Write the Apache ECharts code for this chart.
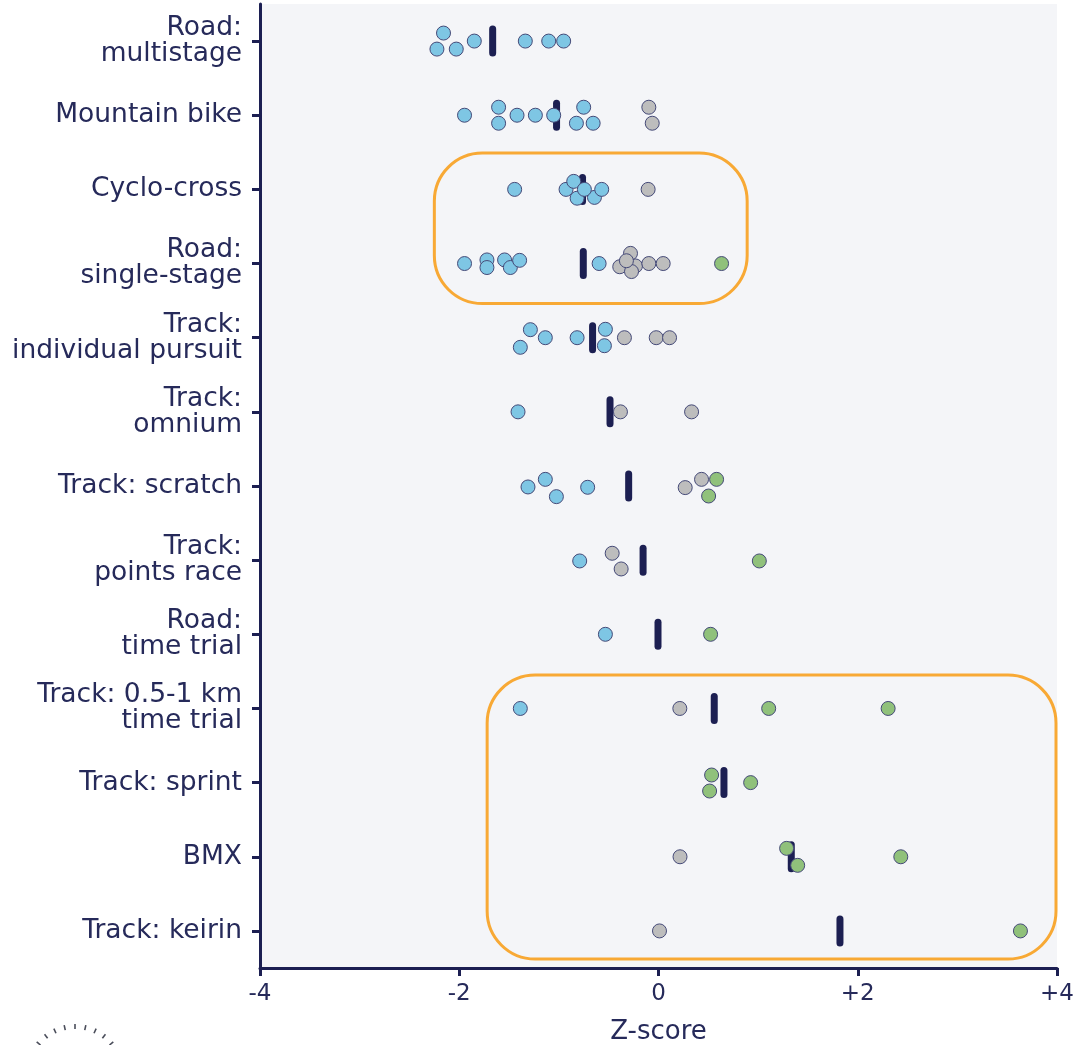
<!DOCTYPE html>
<html><head><meta charset="utf-8">
<script src="https://cdn.jsdelivr.net/npm/echarts@6/dist/echarts.min.js"></script>
<style>html,body{margin:0;padding:0;background:#fff}#c{width:1082px;height:1045px}</style>
</head><body><div id="c"></div>
<script>
const categories = ['Road:\nmultistage','Mountain bike','Cyclo-cross','Road:\nsingle-stage','Track:\nindividual pursuit','Track:\nomnium','Track: scratch','Track:\npoints race','Road:\ntime trial','Track: 0.5-1 km\ntime trial','Track: sprint','BMX','Track: keirin'];
const xTickLabels = ['-4','-2','0','+2','+4'];
// [category index, z-score, swarm lane]
const bluePoints = [
  [0,-2.158,-1],[0,-2.224,1],[0,-2.030,1],[0,-1.849,0],[0,-1.337,0],[0,-1.102,0],[0,-0.952,0],
  [1,-1.947,0],[1,-1.605,-1],[1,-1.605,1],[1,-1.420,0],[1,-1.236,0],[1,-1.052,0],[1,-0.751,-1],[1,-0.824,1],[1,-0.656,1],
  [2,-1.444,0],[2,-0.928,0],[2,-0.817,1.1],[2,-0.851,-1],[2,-0.643,1],[2,-0.744,0],[2,-0.570,0],
  [3,-1.947,0],[3,-1.722,-0.45],[3,-1.722,0.5],[3,-1.545,-0.45],[3,-1.487,0.5],[3,-1.394,-0.4],[3,-0.596,0],
  [4,-1.286,-1],[4,-1.136,0],[4,-1.387,1.2],[4,-0.817,0],[4,-0.533,-1.05],[4,-0.543,1],
  [5,-1.410,0],
  [6,-1.310,0.12],[6,-1.136,-0.83],[6,-1.025,1.33],[6,-0.711,0.16],
  [7,-0.791,0.1],
  [8,-0.533,0],
  [9,-1.387,0]
];
const grayPoints = [
  [1,-0.097,-1],[1,-0.063,1],
  [2,-0.104,0],
  [3,-0.281,-1.27],[3,-0.389,0.4],[3,-0.231,0.3],[3,-0.271,1],[3,-0.322,-0.35],[3,-0.097,0],[3,0.047,0],
  [4,-0.342,0],[4,-0.023,0],[4,0.111,0],
  [5,-0.382,0],[5,0.332,0],
  [6,0.268,0.2],[6,0.432,-0.83],
  [7,-0.465,-0.86],[7,-0.375,1.1],
  [9,0.214,0],
  [11,0.216,0],
  [12,0.010,0]
];
const greenPoints = [
  [3,0.633,0],
  [6,0.583,-0.83],[6,0.503,1.25],
  [7,1.012,0.1],
  [8,0.523,0],
  [9,1.106,0],[9,2.305,0],
  [10,0.533,-0.95],[10,0.513,1.05],[10,0.925,0],
  [11,1.286,-1.05],[11,1.397,1.07],[11,2.432,0],
  [12,3.633,0]
];
// highlighted groups: x extent (z-score), y extent (row units)
const highlightBoxes = [
  {x:[-2.25,0.89], y:[2.01,4.04]},
  {x:[-1.72,3.99], y:[9.05,12.88]}
];

const LANE = 0.108;
const NAVY = '#1c1f52';
const TEXT = '#262a5a';
const FONT = 'DejaVu Sans';

const all = bluePoints.concat(grayPoints, greenPoints);
const means = categories.map((c, i) => {
  const v = all.filter(p => p[0] === i).map(p => p[1]);
  return v.reduce((a, b) => a + b, 0) / v.length;
});

function toXY(pts) { return pts.map(p => [p[1], p[0] + 0.5 + p[2] * LANE]); }

function dotSeries(name, pts, color) {
  return {
    name, type: 'scatter', xAxisIndex: 0, yAxisIndex: 1, z: 3,
    data: toXY(pts), symbol: 'circle', symbolSize: 14,
    itemStyle: { color, borderColor: '#454a78', borderWidth: 1, opacity: 1 },
    emphasis: { disabled: true }, animation: false
  };
}

const chart = echarts.init(document.getElementById('c'));
chart.setOption({
  animation: false,
  backgroundColor: '#ffffff',
  grid: { left: 260, right: 25, top: 4, bottom: 77, show: true, backgroundColor: '#f4f5f8', borderWidth: 0,
          containLabel: false, outerBoundsMode: 'none' },
  xAxis: {
    type: 'value', min: -4, max: 4, interval: 2,
    name: 'Z-score', nameLocation: 'middle', nameGap: 51,
    nameTextStyle: { color: TEXT, fontSize: 26, fontFamily: FONT },
    axisLine: { onZero: false, lineStyle: { color: NAVY, width: 3 } },
    axisTick: { show: true, length: 8, lineStyle: { color: NAVY, width: 3 } },
    axisLabel: { color: TEXT, fontSize: 23, fontFamily: FONT, margin: 15,
      formatter: v => xTickLabels[Math.round((v + 4) / 2)] },
    splitLine: { show: false }
  },
  yAxis: [
    {
      type: 'category', data: categories, inverse: true,
      axisLine: { onZero: false, lineStyle: { color: NAVY, width: 3 } },
      axisTick: { show: true, alignWithLabel: true, length: 8, lineStyle: { color: NAVY, width: 3 } },
      axisLabel: { color: TEXT, fontSize: 26.5, fontFamily: FONT, margin: 18, lineHeight: 26, align: 'right',
                   padding: [5, 0, 0, 0] },
      splitLine: { show: false }
    },
    { type: 'value', min: 0, max: 13, inverse: true, show: false, splitLine: { show: false } }
  ],
  series: [
    {
      name: 'mean', type: 'custom', xAxisIndex: 0, yAxisIndex: 1, z: 2,
      data: means.map((m, i) => [m, i + 0.5]),
      renderItem: (params, api) => {
        const p = api.coord([api.value(0), api.value(1)]);
        return { type: 'line', shape: { x1: p[0], y1: p[1] - 12, x2: p[0], y2: p[1] + 12 },
          style: { stroke: NAVY, lineWidth: 7, lineCap: 'round' } };
      }
    },
    dotSeries('below', bluePoints, '#7ec6e4'),
    dotSeries('neutral', grayPoints, '#bdbdbd'),
    dotSeries('above', greenPoints, '#90c17b')
  ]
});

const graphics = highlightBoxes.map(b => {
  const p1 = chart.convertToPixel({ xAxisIndex: 0, yAxisIndex: 1 }, [b.x[0], b.y[0]]);
  const p2 = chart.convertToPixel({ xAxisIndex: 0, yAxisIndex: 1 }, [b.x[1], b.y[1]]);
  return { type: 'rect', z: 1, silent: true,
    shape: { x: p1[0], y: p1[1], width: p2[0] - p1[0], height: p2[1] - p1[1], r: 48 },
    style: { fill: 'none', stroke: '#f8a935', lineWidth: 3 } };
});
// decorative logo mark (bottom left)
const cx = 75, cy = 1074, r = 50;
for (let k = -5; k <= 5; k++) {
  const a = (270 + k * 12.5) * Math.PI / 180;
  graphics.push({ type: 'line', silent: true,
    shape: { x1: cx + Math.cos(a) * r, y1: cy + Math.sin(a) * r, x2: cx + Math.cos(a) * (r - 5), y2: cy + Math.sin(a) * (r - 5) },
    style: { stroke: '#4a4d5a', lineWidth: 1.6 } });
}
chart.setOption({ graphic: graphics });
</script>
</body></html>
